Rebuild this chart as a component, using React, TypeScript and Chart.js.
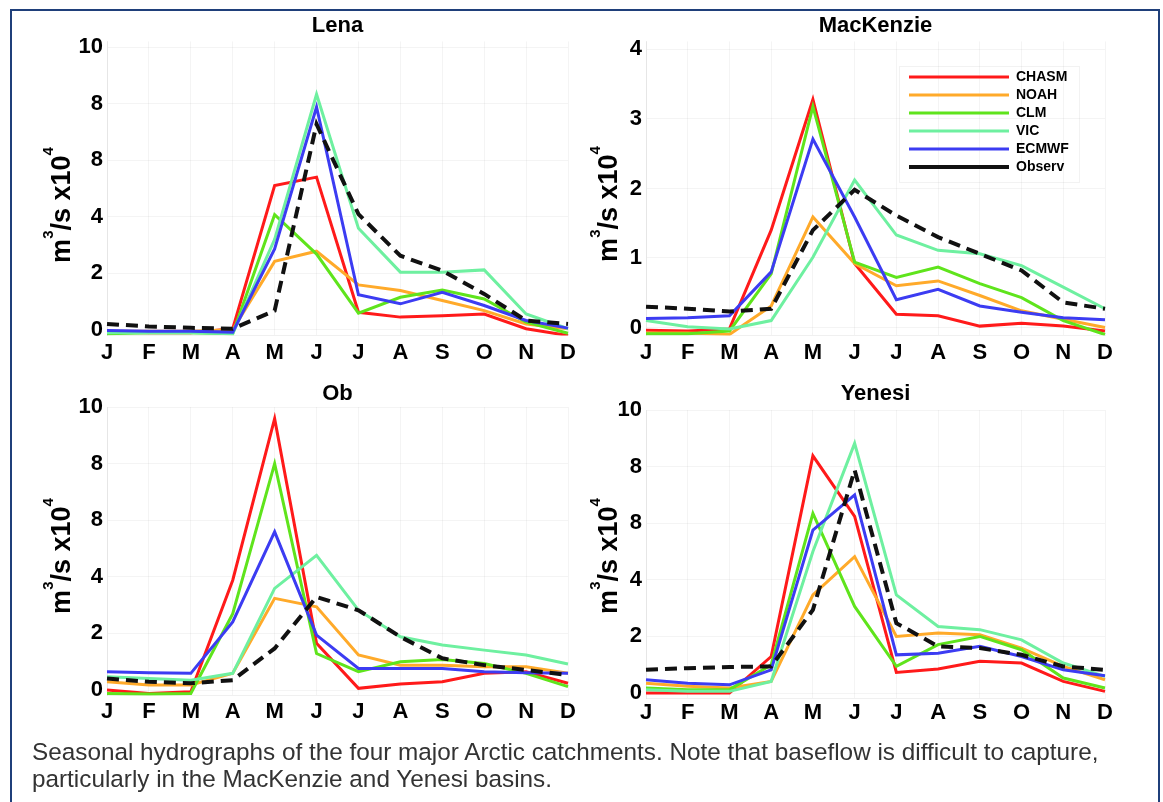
import React, { useEffect, useRef } from 'react';
import { Chart, registerables } from 'chart.js';

Chart.register(...registerables);

const FONT = '"Liberation Sans", Arial, Helvetica, sans-serif';

const months = ['J', 'F', 'M', 'A', 'M', 'J', 'J', 'A', 'S', 'O', 'N', 'D'];
const seriesNames = ['CHASM', 'NOAH', 'CLM', 'VIC', 'ECMWF', 'Observ'];
const seriesColors = ['#ff1a1a', '#ffaa2a', '#5fe41c', '#6ef0a0', '#3c3cf2', '#111111'];

const tenTicks = [0, 2, 4, 6, 8, 10];
const tenTickLabels = ['0', '2', '4', '8', '8', '10'];
const fourTicks = [0, 1, 2, 3, 4];
const fourTickLabels = ['0', '1', '2', '3', '4'];

// Lena
const lenaCHASM = [-0.08, -0.1, -0.1, 0.04, 5.1, 5.4, 0.62, 0.45, 0.5, 0.56, 0.04, -0.2];
const lenaNOAH = [-0.05, -0.05, -0.05, 0.0, 2.42, 2.78, 1.59, 1.39, 1.04, 0.68, 0.21, 0.04];
const lenaCLM = [-0.14, -0.1, -0.1, -0.14, 4.07, 2.68, 0.59, 1.15, 1.41, 1.09, 0.27, -0.12];
const lenaVIC = [-0.1, -0.1, -0.1, -0.14, 3.2, 8.33, 3.59, 2.04, 2.04, 2.12, 0.56, 0.04];
const lenaECMWF = [-0.02, -0.05, -0.05, -0.08, 2.86, 7.88, 1.24, 0.92, 1.33, 0.86, 0.33, 0.06];
const lenaObserv = [0.21, 0.12, 0.07, 0.04, 0.68, 7.27, 4.09, 2.62, 2.09, 1.27, 0.33, 0.21];

// MacKenzie
const mackCHASM = [-0.04, -0.05, -0.02, 1.4, 3.28, 0.92, 0.19, 0.17, 0.02, 0.06, 0.02, -0.05];
const mackNOAH = [-0.08, -0.08, -0.1, 0.31, 1.59, 0.92, 0.6, 0.67, 0.46, 0.24, 0.12, 0.0];
const mackCLM = [-0.09, -0.09, -0.05, 0.77, 3.18, 0.94, 0.72, 0.87, 0.63, 0.43, 0.1, -0.1];
const mackVIC = [0.1, 0.01, -0.02, 0.1, 1.01, 2.12, 1.33, 1.11, 1.06, 0.89, 0.58, 0.27];
const mackECMWF = [0.13, 0.14, 0.17, 0.8, 2.71, 1.59, 0.4, 0.55, 0.31, 0.22, 0.14, 0.11];
const mackObserv = [0.3, 0.27, 0.23, 0.27, 1.4, 1.98, 1.61, 1.3, 1.06, 0.82, 0.36, 0.27];

// Ob
const obCHASM = [0.0, -0.12, -0.06, 3.88, 9.59, 1.65, 0.06, 0.21, 0.29, 0.59, 0.65, 0.24];
const obNOAH = [0.29, 0.18, 0.18, 0.59, 3.24, 2.94, 1.24, 0.88, 0.88, 0.82, 0.82, 0.59];
const obCLM = [-0.12, -0.14, -0.12, 2.7, 8.0, 1.29, 0.65, 1.0, 1.08, 0.94, 0.59, 0.12];
const obVIC = [0.47, 0.41, 0.35, 0.59, 3.59, 4.76, 2.82, 1.88, 1.59, 1.41, 1.24, 0.92];
const obECMWF = [0.65, 0.61, 0.59, 2.41, 5.59, 1.94, 0.76, 0.76, 0.76, 0.65, 0.61, 0.59];
const obObserv = [0.41, 0.29, 0.24, 0.35, 1.47, 3.29, 2.82, 1.88, 1.12, 0.88, 0.71, 0.53];

// Yenesi
const yenCHASM = [0.0, 0.0, 0.0, 1.29, 8.38, 6.24, 0.73, 0.85, 1.12, 1.06, 0.41, 0.06];
const yenNOAH = [0.35, 0.24, 0.18, 0.41, 3.47, 4.82, 2.0, 2.12, 2.06, 1.59, 0.94, 0.47];
const yenCLM = [0.18, 0.12, 0.12, 1.0, 6.35, 3.06, 0.94, 1.71, 2.0, 1.53, 0.53, 0.18];
const yenVIC = [0.12, 0.06, 0.06, 0.41, 5.0, 8.82, 3.47, 2.35, 2.24, 1.88, 1.06, 0.59];
const yenECMWF = [0.47, 0.35, 0.29, 0.82, 5.76, 7.0, 1.35, 1.41, 1.65, 1.29, 0.82, 0.61];
const yenObserv = [0.82, 0.88, 0.92, 0.94, 2.94, 7.88, 2.47, 1.65, 1.59, 1.35, 0.94, 0.82];

const yTitleParts = [
  { text: 'm', sup: false },
  { text: '3', sup: true },
  { text: '/s x10', sup: false },
  { text: '4', sup: true },
];

const captionLine1 =
  'Seasonal hydrographs of the four major Arctic catchments. Note that baseflow is difficult to capture,';
const captionLine2 = 'particularly in the MacKenzie and Yenesi basins.';

const yTitlePlugin = {
  id: 'yTitle',
  afterDraw(chart: any, _args: any, opts: any) {
    const ctx = chart.ctx;
    const main = `bold ${opts.size}px ${FONT}`;
    const sup = `bold ${opts.supSize}px ${FONT}`;
    ctx.save();
    let total = 0;
    const widths = yTitleParts.map((p) => {
      ctx.font = p.sup ? sup : main;
      const w = ctx.measureText(p.text).width;
      total += w;
      return w;
    });
    ctx.translate(opts.x, opts.y);
    ctx.rotate(-Math.PI / 2);
    ctx.fillStyle = '#000';
    ctx.textBaseline = 'alphabetic';
    ctx.textAlign = 'left';
    let cx = -total / 2;
    yTitleParts.forEach((p, i) => {
      ctx.font = p.sup ? sup : main;
      ctx.fillText(p.text, cx, p.sup ? -opts.raise : 0);
      cx += widths[i];
    });
    ctx.restore();
  },
};

const legendMovePlugin = {
  id: 'legendMove',
  afterLayout(chart: any, _args: any, opts: any) {
    const lg = chart.legend;
    if (!lg || !opts || !opts.enabled) return;
    const w = lg.width;
    lg.left = opts.left;
    lg.top = opts.top;
    lg.right = opts.left + w;
    lg.bottom = opts.top + 200;
  },
  beforeDatasetsDraw(chart: any, _args: any, opts: any) {
    if (!opts || !opts.enabled) return;
    const ctx = chart.ctx;
    ctx.save();
    ctx.strokeStyle = 'rgba(0,0,0,0.05)';
    ctx.lineWidth = 1;
    ctx.strokeRect(opts.boxLeft, opts.boxTop, opts.boxWidth, opts.boxHeight);
    ctx.restore();
  },
};

type PanelDef = {
  title: string;
  series: number[][];
  tickValues: number[];
  tickLabels: string[];
  min: number;
  max: number;
  left: number;
  top: number;
  w: number;
  h: number;
  padRight: number;
  titleTop: number;
  titleBottom: number;
  yAxisWidth: number;
  xAxisHeight: number;
  xTickPad: number;
  yTitleX: number;
  yTitleY: number;
  legend: boolean;
};

const gridColor = 'rgba(0,0,0,0.045)';

function Panel({ p }: { p: PanelDef }) {
  const ref = useRef<HTMLCanvasElement>(null);
  useEffect(() => {
    const datasets = p.series.map((data, i) => ({
      label: seriesNames[i],
      data,
      borderColor: seriesColors[i],
      backgroundColor: seriesColors[i],
      borderWidth: i === 5 ? 4 : 3,
      borderDash: i === 5 ? [12, 7] : [],
      pointRadius: 0,
      tension: 0,
      fill: false,
      order: 5 - i,
    }));
    const chart = new Chart(ref.current as HTMLCanvasElement, {
      type: 'line',
      data: { labels: months, datasets },
      plugins: [yTitlePlugin, legendMovePlugin],
      options: {
        animation: false,
        responsive: false,
        devicePixelRatio: 1,
        layout: { padding: { left: 0, top: 0, right: p.padRight, bottom: 0 } },
        plugins: {
          tooltip: { enabled: false },
          title: {
            display: true,
            text: p.title,
            fullSize: false,
            color: '#000',
            font: { family: FONT, size: 22, weight: 'bold', lineHeight: 1.2 },
            padding: { top: p.titleTop, bottom: p.titleBottom },
          },
          legend: p.legend
            ? {
                display: true,
                position: 'chartArea',
                align: 'start',
                labels: {
                  usePointStyle: true,
                  pointStyle: 'line',
                  pointStyleWidth: 100,
                  boxWidth: 100,
                  boxHeight: 14,
                  padding: 4,
                  color: '#000',
                  font: { family: FONT, size: 14, weight: 'bold' },
                  sort: (a: any, b: any) => a.datasetIndex - b.datasetIndex,
                },
              }
            : { display: false },
          legendMove: {
            enabled: p.legend,
            left: 323,
            top: 56,
            boxLeft: 317.5,
            boxTop: 56.5,
            boxWidth: 180,
            boxHeight: 116,
          },
          yTitle: { x: p.yTitleX, y: p.yTitleY, size: 27, supSize: 15, raise: 17 },
        } as any,
        scales: {
          x: {
            type: 'category',
            offset: false,
            grid: { color: gridColor, drawTicks: false },
            border: { color: 'rgba(0,0,0,0.06)' },
            ticks: {
              color: '#000',
              font: { family: FONT, size: 22, weight: 'bold' },
              padding: p.xTickPad,
              autoSkip: false,
              maxRotation: 0,
              minRotation: 0,
            },
            afterFit: (s: any) => {
              s.height = p.xAxisHeight;
            },
          },
          y: {
            type: 'linear',
            min: p.min,
            max: p.max,
            grid: { color: gridColor, drawTicks: false },
            border: { color: 'rgba(0,0,0,0.06)' },
            afterBuildTicks: (s: any) => {
              s.ticks = p.tickValues.map((v) => ({ value: v }));
            },
            ticks: {
              color: '#000',
              font: { family: FONT, size: 22, weight: 'bold' },
              padding: 4,
              callback: (v: any) => {
                const idx = p.tickValues.indexOf(Number(v));
                return idx >= 0 ? p.tickLabels[idx] : '';
              },
            },
            afterFit: (s: any) => {
              s.width = p.yAxisWidth;
            },
          },
        },
      } as any,
    });
    return () => chart.destroy();
  }, []);
  return (
    <canvas
      ref={ref}
      width={p.w}
      height={p.h}
      style={{ position: 'absolute', left: p.left, top: p.top, width: p.w, height: p.h }}
    />
  );
}

const panels: PanelDef[] = [
  {
    title: 'Lena',
    series: [lenaCHASM, lenaNOAH, lenaCLM, lenaVIC, lenaECMWF, lenaObserv],
    tickValues: tenTicks,
    tickLabels: tenTickLabels,
    min: -0.2,
    max: 10.2,
    left: 12,
    top: 10,
    w: 570,
    h: 375,
    padRight: 14,
    titleTop: 3,
    titleBottom: 2,
    yAxisWidth: 95,
    xAxisHeight: 49.5,
    xTickPad: 4,
    yTitleX: 58,
    yTitleY: 195,
    legend: false,
  },
  {
    title: 'MacKenzie',
    series: [mackCHASM, mackNOAH, mackCLM, mackVIC, mackECMWF, mackObserv],
    tickValues: fourTicks,
    tickLabels: fourTickLabels,
    min: -0.115,
    max: 4.115,
    left: 582,
    top: 10,
    w: 570,
    h: 375,
    padRight: 47,
    titleTop: 3,
    titleBottom: 2,
    yAxisWidth: 64,
    xAxisHeight: 49.5,
    xTickPad: 4,
    yTitleX: 35,
    yTitleY: 194,
    legend: true,
  },
  {
    title: 'Ob',
    series: [obCHASM, obNOAH, obCLM, obVIC, obECMWF, obObserv],
    tickValues: tenTicks,
    tickLabels: tenTickLabels,
    min: -0.2,
    max: 10,
    left: 12,
    top: 380,
    w: 570,
    h: 360,
    padRight: 14,
    titleTop: 0.6,
    titleBottom: 0,
    yAxisWidth: 95,
    xAxisHeight: 44.3,
    xTickPad: 3,
    yTitleX: 58,
    yTitleY: 176,
    legend: false,
  },
  {
    title: 'Yenesi',
    series: [yenCHASM, yenNOAH, yenCLM, yenVIC, yenECMWF, yenObserv],
    tickValues: tenTicks,
    tickLabels: tenTickLabels,
    min: -0.2,
    max: 10,
    left: 582,
    top: 380,
    w: 570,
    h: 360,
    padRight: 47,
    titleTop: 1,
    titleBottom: 2.6,
    yAxisWidth: 64,
    xAxisHeight: 41.3,
    xTickPad: 1,
    yTitleX: 35,
    yTitleY: 176,
    legend: false,
  },
];

export default function App() {
  return (
    <div
      style={{
        position: 'fixed',
        left: 0,
        top: 0,
        width: 1163,
        height: 802,
        background: '#fff',
        overflow: 'hidden',
      }}
    >
      <div
        style={{
          position: 'absolute',
          left: 10,
          top: 9,
          width: 1150,
          height: 830,
          border: '2px solid #1f3f7a',
          boxSizing: 'border-box',
        }}
      />
      {panels.map((p) => (
        <Panel key={p.title} p={p} />
      ))}
      <div
        style={{
          position: 'absolute',
          left: 32,
          top: 738,
          fontFamily: FONT,
          fontSize: 24.3,
          lineHeight: '27px',
          color: '#333333',
          whiteSpace: 'nowrap',
        }}
      >
        {captionLine1}
        <br />
        {captionLine2}
      </div>
    </div>
  );
}
